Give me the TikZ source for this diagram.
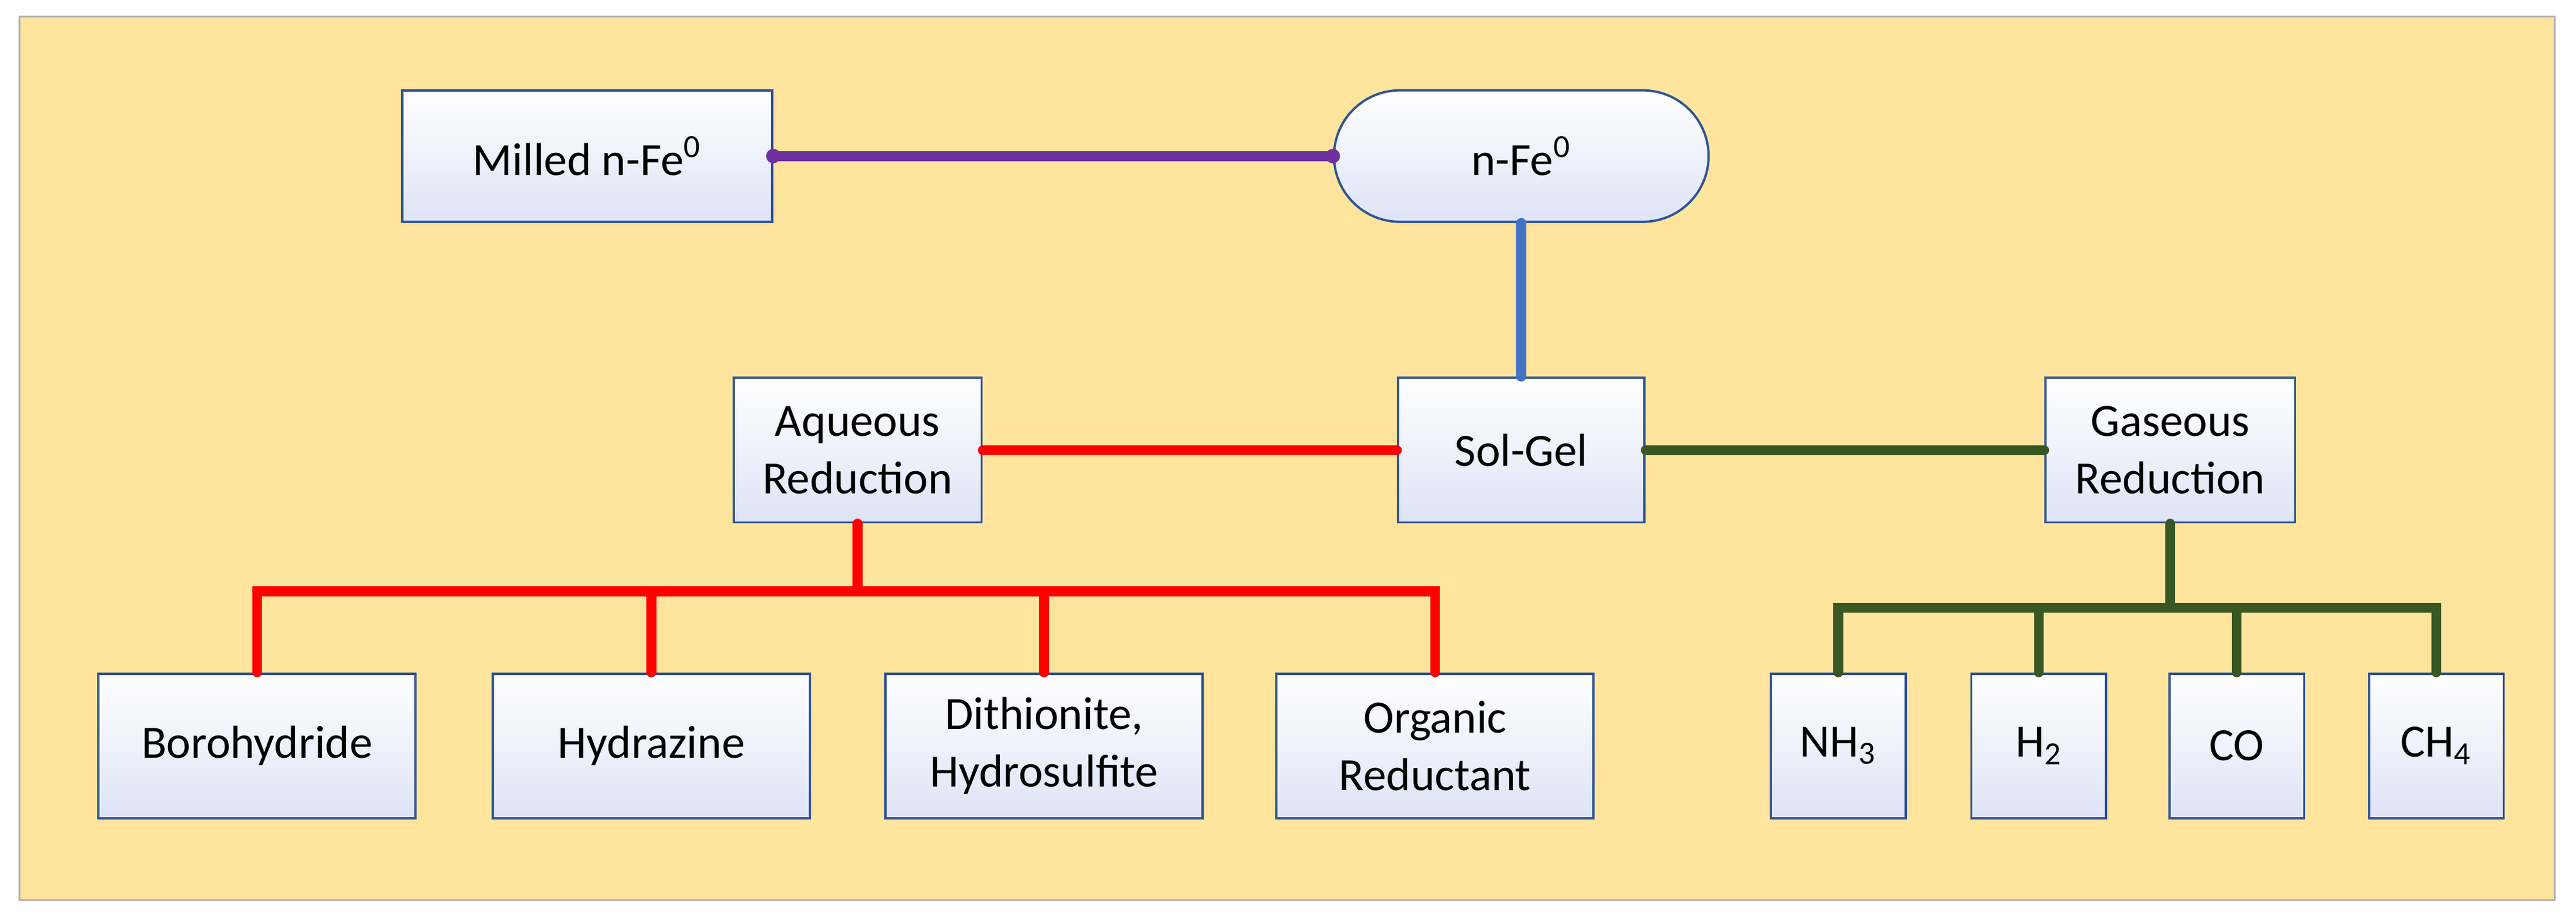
\documentclass[tikz,border=0pt]{standalone}
\usepackage{fontspec}
\setmainfont{Carlito}
\usetikzlibrary{shapes.misc}
\definecolor{bg}{RGB}{254,228,156}
\definecolor{bd}{RGB}{47,84,150}
\definecolor{lav}{RGB}{222,228,246}
\definecolor{pur}{RGB}{112,48,160}
\definecolor{blu}{RGB}{68,114,196}
\definecolor{rd}{RGB}{255,0,0}
\definecolor{gr}{RGB}{56,87,35}
\begin{document}
\begin{tikzpicture}[x=0.2mm,y=-0.2mm,
 bx/.style={draw=bd,line width=0.8pt,top color=white,bottom color=lav,inner sep=0pt,align=center,font=\fontsize{16}{20}\selectfont},
 ln/.style={line width=3.4pt,line cap=round},
 dt/.style={circle,fill,inner sep=0pt,minimum size=5pt}]
\useasboundingbox (0,0) rectangle (1568,561);
\fill[white] (0,0) rectangle (1568,561);
\draw[fill=bg,draw=gray!60,line width=0.6pt] (12,10) rectangle (1555,548);
\node[bx,minimum width=45mm,minimum height=16mm] (milled) at (357.5,95) {Milled n-Fe\textsuperscript{0}};
\node[bx,rounded rectangle,minimum width=45.6mm,minimum height=16mm] (nfe) at (926,95) {n-Fe\textsuperscript{0}};
\node[bx,minimum width=30mm,minimum height=17.6mm] (sol) at (926,274) {Sol-Gel};
\node[bx,minimum width=30.2mm,minimum height=17.6mm] (aq) at (522,274) {Aqueous\\Reduction};
\node[bx,minimum width=30.4mm,minimum height=17.6mm] (gas) at (1321,274) {Gaseous\\Reduction};
\foreach \n/\x/\t in {boro/156.5/Borohydride,hyd/396.5/Hydrazine,dit/635.5/{Dithionite,\\Hydrosulfite},org/873.5/{Organic\\Reductant}}
 \node[bx,minimum width=38.6mm,minimum height=17.6mm] (\n) at (\x,454) {\t};
\foreach \n/\x/\t in {nh/1119/NH\textsubscript{3},h/1241/H\textsubscript{2},co/1361.5/CO,ch/1483/CH\textsubscript{4}}
 \node[bx,minimum width=16.4mm,minimum height=17.6mm] (\n) at (\x,454) {\t};
\draw[ln,pur] (milled.east) -- (nfe.west);
\node[dt,pur] at (milled.east) {}; \node[dt,pur] at (nfe.west) {};
\draw[ln,blu] (nfe.south) -- (sol.north);
\draw[ln,rd] (aq.east) -- (sol.west);
\draw[ln,gr] (sol.east) -- (gas.west);
\coordinate (rj) at (522,360);
\draw[ln,rd] (aq.south) -- (rj);
\draw[ln,rd] (boro.north) -- (boro.north|-rj) -- (org.north|-rj) -- (org.north);
\draw[ln,rd] (hyd.north) -- (hyd.north|-rj);
\draw[ln,rd] (dit.north) -- (dit.north|-rj);
\coordinate (gj) at (1321,370);
\draw[ln,gr] (gas.south) -- (gj);
\draw[ln,gr] (nh.north) -- (nh.north|-gj) -- (ch.north|-gj) -- (ch.north);
\draw[ln,gr] (h.north) -- (h.north|-gj);
\draw[ln,gr] (co.north) -- (co.north|-gj);
\end{tikzpicture}
\end{document}
